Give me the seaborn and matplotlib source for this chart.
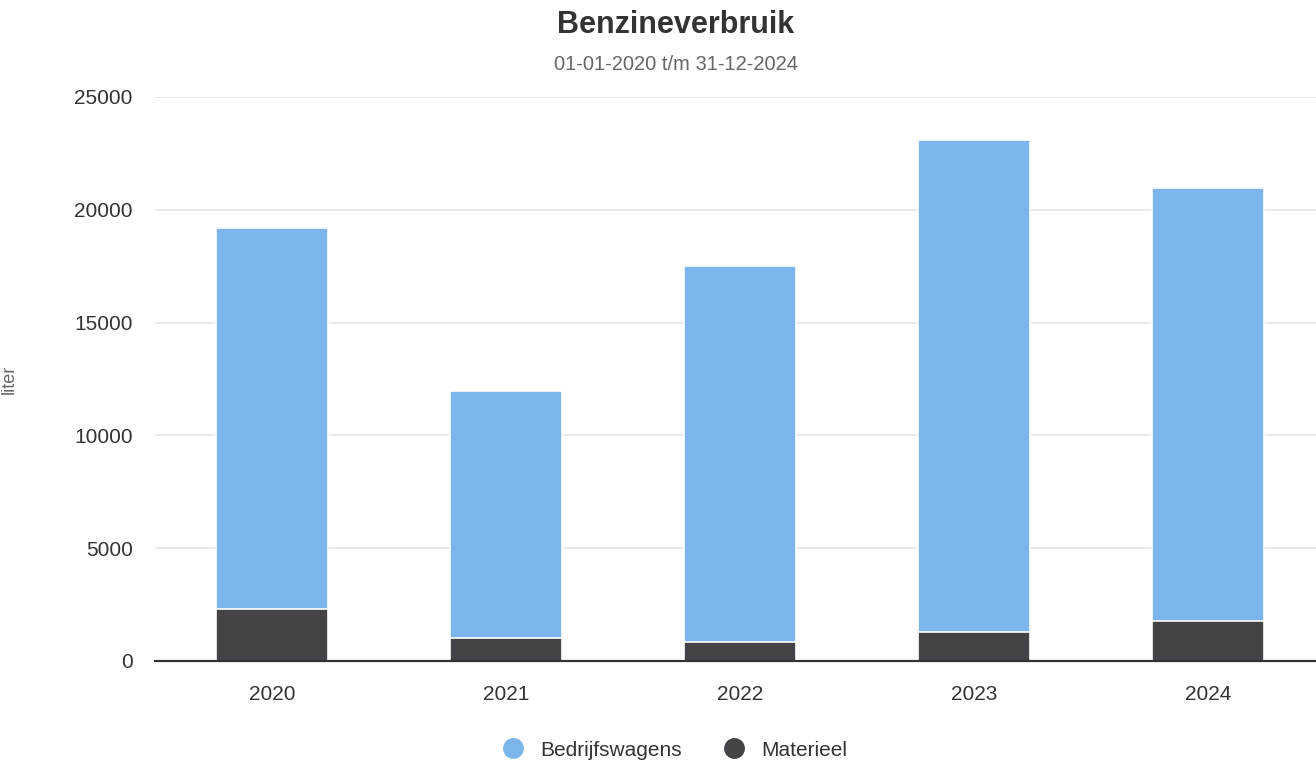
import matplotlib
matplotlib.use("Agg")
import matplotlib.pyplot as plt
import seaborn as sns
import pandas as pd
from matplotlib.lines import Line2D

years = ["2020", "2021", "2022", "2023", "2024"]
materieel = [2300, 1020, 840, 1300, 1790]
bedrijfswagens = [16880, 10950, 16670, 21790, 19170]
series_names = ["Bedrijfswagens", "Materieel"]
colors = {"Bedrijfswagens": "#7cb5ec", "Materieel": "#434348"}

totals = [b + m for b, m in zip(bedrijfswagens, materieel)]
df = pd.DataFrame({"year": years, "total": totals, "materieel": materieel})

sns.set_style("white")
plt.rcParams["font.family"] = ["Liberation Sans", "DejaVu Sans"]

fig = plt.figure(figsize=(13.16, 7.62), dpi=100)
ax = fig.add_axes([155 / 1316, 101 / 762, 1170 / 1316, 564 / 762])

sns.barplot(data=df, x="year", y="total", color=colors["Bedrijfswagens"],
            width=0.48, edgecolor="white", linewidth=1.2, saturation=1, ax=ax)
sns.barplot(data=df, x="year", y="materieel", color=colors["Materieel"],
            width=0.48, edgecolor="white", linewidth=1.2, saturation=1, ax=ax)

ax.set_xlim(-0.5, 4.5)
ax.set_ylim(0, 25000)
ax.set_yticks([0, 5000, 10000, 15000, 20000, 25000])
ax.yaxis.grid(True, color="#e6e6e6", linewidth=1.2)
ax.set_axisbelow(True)
for s in ["top", "right", "left"]:
    ax.spines[s].set_visible(False)
ax.spines["bottom"].set_color("#333333")
ax.spines["bottom"].set_linewidth(1.6)
ax.tick_params(axis="y", length=0, pad=16, labelsize=15, labelcolor="#333333")
ax.tick_params(axis="x", length=0, pad=17, labelsize=15, labelcolor="#333333")
ax.set_xlabel("")
ax.set_ylabel("liter", fontsize=13, color="#666666")
ax.yaxis.set_label_coords((18 - 155) / 1170, 0.5)

fig.text(676 / 1316, 1 - 25 / 762, "Benzineverbruik", ha="center", va="center",
         fontsize=22, fontweight="bold", color="#333333")
fig.text(676 / 1316, 1 - 65 / 762, "01-01-2020 t/m 31-12-2024", ha="center", va="center",
         fontsize=14.5, color="#666666")

handles = [Line2D([0], [0], marker="o", linestyle="", markersize=14,
                  markerfacecolor=colors[n], markeredgecolor=colors[n]) for n in series_names]
fig.legend(handles, series_names, loc="center", bbox_to_anchor=(670 / 1316, 1 - 750 / 762),
           ncol=2, frameon=False, fontsize=15, handletextpad=0.3, columnspacing=1.5,
           labelcolor="#333333")

fig.savefig("out.png", dpi=100)
